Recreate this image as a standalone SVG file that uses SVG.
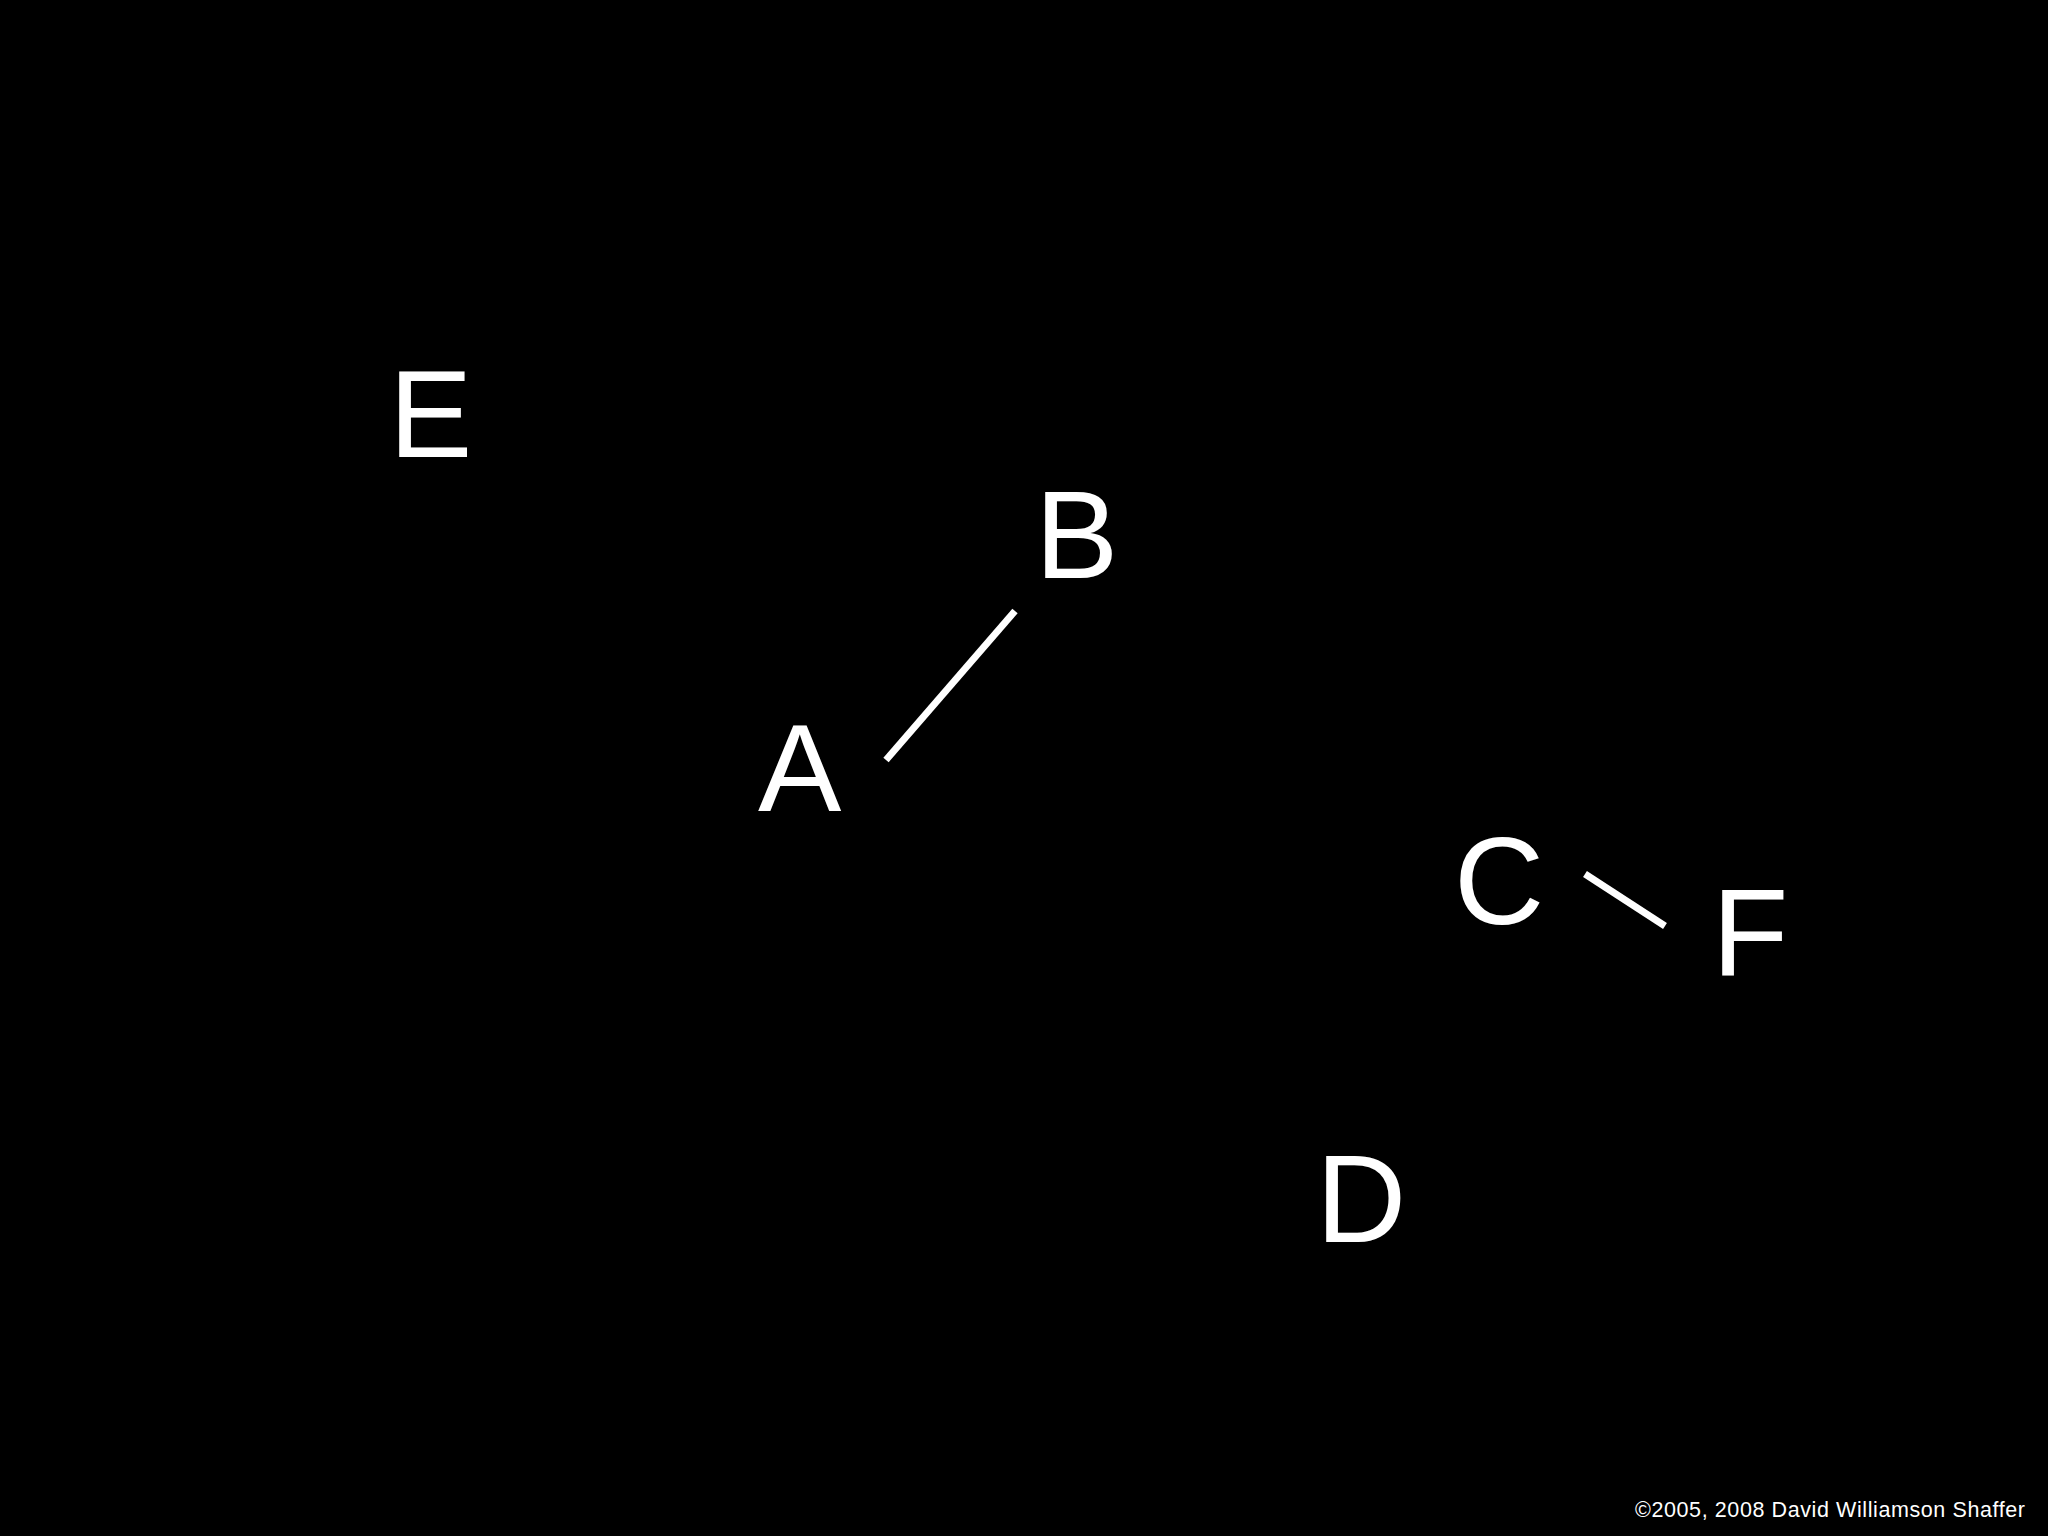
<svg xmlns="http://www.w3.org/2000/svg" width="2048" height="1536" viewBox="0 0 2048 1536">
<style>
.lbl{font-family:"Liberation Sans",Arial,sans-serif;font-size:125px;fill:#fff}
.edge{stroke:#fff;stroke-width:7;fill:none}
.copy{font-family:"Liberation Sans",Arial,sans-serif;font-size:21.5px;fill:#fff}
</style>
<rect width="2048" height="1536" fill="#000"/>
<g id="connectors">
<line class="edge" x1="886" y1="760" x2="1015" y2="611"/>
<line class="edge" x1="1585" y1="874" x2="1665" y2="926"/>
</g>
<g id="node-E"><text class="lbl" x="389" y="457">E</text></g>
<g id="node-B"><text class="lbl" x="1035" y="578">B</text></g>
<g id="node-A"><text class="lbl" x="758" y="811">A</text></g>
<g id="node-C"><text class="lbl" x="1454" y="924">C</text></g>
<g id="node-F"><text class="lbl" x="1712" y="976">F</text></g>
<g id="node-D"><text class="lbl" x="1316" y="1242">D</text></g>
<text class="copy" x="1635" y="1517" textLength="390" lengthAdjust="spacing">©2005, 2008 David Williamson Shaffer</text>
</svg>
